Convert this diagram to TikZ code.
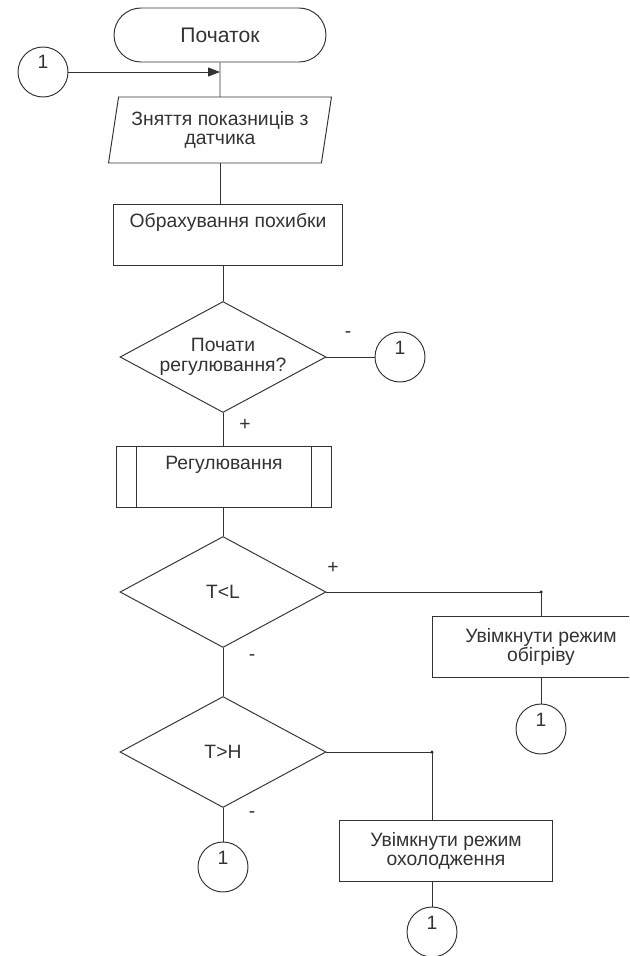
\documentclass[tikz,border=0pt]{standalone}
\usepackage{fontspec}
\setmainfont{Liberation Sans}
\usetikzlibrary{shapes.geometric,arrows.meta}

\begin{document}
\begin{tikzpicture}[x = 0.02cm, y = -0.02cm, color = {black!80}, line width = 0.55pt,
    font = \fontsize{11}{11.2}\selectfont,
    term/.style = {draw, rounded corners = 0.54cm, minimum width = 4.24cm, minimum height = 1.08cm, font = \fontsize{12}{14}\selectfont},
    datain/.style = {draw, trapezium, trapezium left angle = 75, trapezium right angle = 105, trapezium stretches body, minimum width = 4.46cm, minimum height = 1.32cm, inner sep = 0pt, align = center},
    topbox/.style = {draw, minimum width = #1, text height = 0.46cm, text depth = 0.76cm, inner sep = 0pt},
    box/.style = {draw, minimum width = #1, minimum height = 1.22cm, inner sep = 0pt, align = center},
    decision/.style = {draw, diamond, aspect = 1.9, minimum width = 4.12cm, minimum height = 2.22cm, inner sep = 0pt, align = center},
    conn/.style = {draw, circle, minimum size = 1cm, inner sep = 0pt, text height = 0.25cm, text depth = 0.37cm},
    dot/.style = {circle, fill, minimum size = 0.07cm, inner sep = 0pt}]
    \useasboundingbox (0,0) rectangle (629,956);
    \clip (0,0) rectangle (629,956);
    \node[term] (start) at (220,35) {Початок};
    \node[conn] (con0) at (43,72) {1};
    \node[datain] (input) at (220,130) {Зняття показниців з\\датчика};
    \node[topbox = 4.58cm] (calc) at (228,235) {Обрахування похибки};
    \node[decision] (dec1) at (223,357) {Почати\\регулювання?};
    \node[conn] (con1) at (400,357) {1};
    \node (minus1) at (348,335) {-};
    \node (plus1) at (245,425) {+};
    \node[topbox = 4.3cm] (proc) at (224,477) {Регулювання};
    \draw ([xshift = 0.4cm]proc.north west) -- ([xshift = 0.4cm]proc.south west);
    \draw ([xshift = -0.4cm]proc.north east) -- ([xshift = -0.4cm]proc.south east);
    \node[decision] (dec2) at (223,592) {T<L};
    \node (plus2) at (333,568) {+};
    \node[box = 4.36cm] (heat) at (541,647) {Увімкнути режим\\обігріву};
    \node[conn] (con2) at (541,729) {1};
    \node (minus2) at (252,658) {-};
    \node[decision] (dec3) at (223,752) {T>H};
    \node[box = 4.26cm] (cool) at (446,851) {Увімкнути режим\\охолодження};
    \node[conn] (con3) at (432,932) {1};
    \node (minus3) at (252,815) {-};
    \node[conn] (con4) at (223,867) {1};
    \coordinate (c1) at (dec2.east -| heat.north);
    \coordinate (c2) at (dec3.east -| con3.north);
    \node[dot] (d1) at (c1) {};
    \node[dot] (d2) at (c2) {};
    \draw (start) -- (input);
    \draw[-{Triangle[length = 0.24cm, width = 0.18cm]}] (con0) -- (con0 -| start.south);
    \draw (input.south) -- (input.south |- calc.north);
    \draw (calc.south -| dec1.north) -- (dec1.north);
    \draw (dec1.east) -- (dec1.east -| con1.west);
    \draw (dec1.south) -- (dec1.south |- proc.north);
    \draw (proc.south -| dec2.north) -- (dec2.north);
    \draw (dec2.east) -- (c1) -- (heat.north);
    \draw (heat) -- (con2);
    \draw (dec2.south) -- (dec3.north);
    \draw (dec3.east) -- (c2) -- (c2 |- cool.north);
    \draw (c2 |- cool.south) -- (con3);
    \draw (dec3.south) -- (con4);
\end{tikzpicture}
\end{document}
